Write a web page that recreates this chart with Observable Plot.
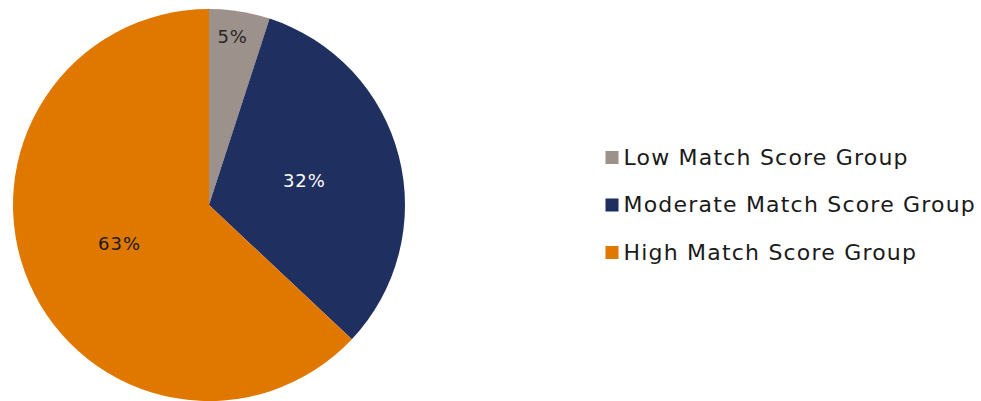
<!DOCTYPE html>
<html>
<head>
<meta charset="utf-8">
<script src="https://cdn.jsdelivr.net/npm/d3@7"></script>
<script src="https://cdn.jsdelivr.net/npm/@observablehq/plot@0.6"></script>
<style>
  html, body { margin: 0; padding: 0; background: #fff; }
</style>
</head>
<body>
<div id="chart"></div>
<script>
const categories = ["Low Match Score Group", "Moderate Match Score Group", "High Match Score Group"];
const values = [5, 32, 63];
const labels = ["5%", "32%", "63%"];
const colors = ["#9D918C", "#1F2F5F", "#E07800"];
const labelColors = ["#262626", "#FFFFFF", "#1A1A1A"];

const W = 981, H = 401;
const cx = 209, cy = 205, R = 196;
const legendX = 605, legendY0 = 157, legendStep = 47.5;

const data = categories.map((c, i) => ({category: c, value: values[i], label: labels[i], labelColor: labelColors[i], i}));
const arcs = d3.pie().sort(null).value(d => d.value)(data);
const arcGen = d3.arc().innerRadius(0).outerRadius(R);

const labelData = arcs.map(a => {
  const mid = (a.startAngle + a.endAngle) / 2 - (a.data.value < 10 ? 0.02 : 0);
  const lr = a.data.value < 10 ? R * 0.865 : R * 0.5;
  return {...a.data, x: cx + lr * Math.sin(mid), y: cy - lr * Math.cos(mid)};
});

const legendData = data.map(d => ({...d, y: legendY0 + d.i * legendStep}));

const pieMark = (index, scales) => {
  const g = d3.create("svg:g").attr("transform", `translate(${cx},${cy})`);
  const colorFn = scales && scales.color ? scales.color : (c => colors[categories.indexOf(c)]);
  g.selectAll("path").data(arcs).join("path")
    .attr("d", arcGen)
    .attr("fill", d => colorFn(d.data.category));
  return g.node();
};

const chart = Plot.plot({
  width: W,
  height: H,
  margin: 0,
  x: {type: "identity", axis: null},
  y: {type: "identity", axis: null},
  color: {domain: categories, range: colors},
  style: {fontFamily: "DejaVu Sans, Verdana, sans-serif", background: "#fff"},
  marks: [
    pieMark,
    ...labelData.map(d => Plot.text([d], {x: "x", y: "y", text: "label", fill: d.labelColor, fontSize: 18})),
    Plot.dot(legendData, {x: legendX + 6.5, y: "y", symbol: "square", r: 7.35, fill: "category"}),
    Plot.text(legendData, {x: 623, y: "y", text: "category", textAnchor: "start", fontSize: 22, fill: "#1A1A1A"})
  ]
});
// widen letter spacing to approximate the reference's Verdana-like font metrics
const textGroups = d3.select(chart).selectAll("g[aria-label='text']").nodes();
textGroups.forEach((g, k) => {
  const isLegend = k === textGroups.length - 1;
  d3.select(g).style("letter-spacing", isLegend ? "1.2px" : "1px");
});
document.getElementById("chart").appendChild(chart);
</script>
</body>
</html>
